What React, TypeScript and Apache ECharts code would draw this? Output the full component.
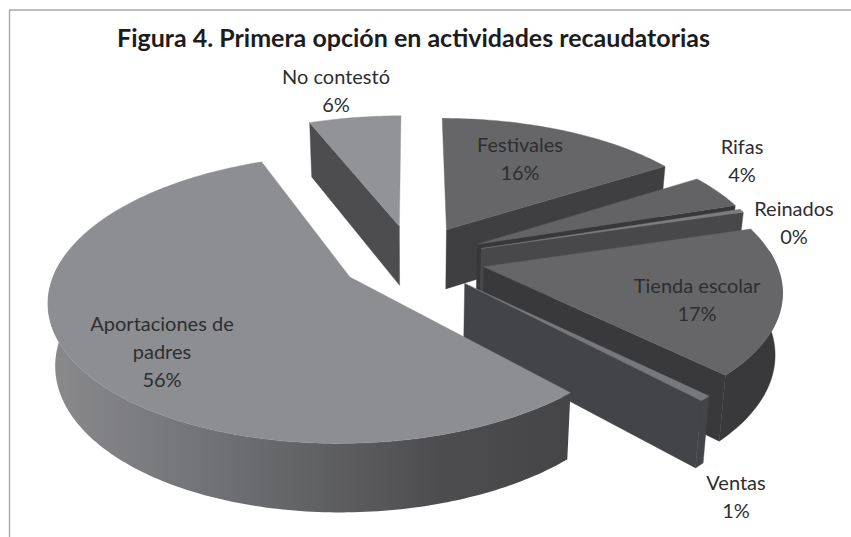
import React, { useEffect, useRef } from "react";
import * as echarts from "echarts";

const TITLE = "Figura 4. Primera opción en actividades recaudatorias";
const categories = ["Festivales", "Rifas", "Reinados", "Tienda escolar", "Ventas", "Aportaciones de\npadres", "No contestó"];
const shares = [16, 4, 0.4, 17, 0.6, 56, 6];

// styling tables (not data)
const DRAW_ORDER = [0, 6, 1, 2, 3, 4, 5];
const TOP_COLORS = ["#666668", "#636365", "#7d7d80", "#666668", "#77787b", "#8d8e91", "#929396"];
const SIDE_COLORS = ["#3f3f41", "#38383a", "#48484a", "#39393b", "#434447", "#48484a", "#4d4d4f"];
const LABEL_POS: [number, number][] = [[520, 158], [742, 160], [794, 222], [697, 299], [736, 496], [162, 351], [336, 90]];

const CX = 412.5, CY = 258.5, R = 291, RT = 135.7, K = 0.148, EXPLODE = 0.25, DEPTH = 60.5, BASE_SHRINK = 0.98;

const total = shares.reduce((a, b) => a + b, 0);
const starts: number[] = [];
shares.reduce((acc, v, i) => { starts[i] = acc; return acc + v; }, 0);

const project = (u: number, v: number, low: boolean): number[] => {
  const s = 1 / (1 - K * v);
  if (!low) return [CX + u * R * s, CY + v * RT * s];
  return [CX + u * R * s * BASE_SHRINK, CY + v * RT * s * BASE_SHRINK + DEPTH * s];
};

const renderSlice = (_p: any, api: any) => {
  const i = api.value(0);
  const a0 = (starts[i] / total) * Math.PI * 2;
  const a1 = ((starts[i] + shares[i]) / total) * Math.PI * 2;
  const mid = (a0 + a1) / 2;
  const ox = Math.sin(mid) * EXPLODE, oy = -Math.cos(mid) * EXPLODE;
  const steps = Math.max(4, Math.ceil(((a1 - a0) * 180) / Math.PI));
  const angles: number[] = [];
  for (let k = 0; k <= steps; k++) angles.push(a0 + ((a1 - a0) * k) / steps);
  const rim = angles.map((a) => [ox + Math.sin(a), oy - Math.cos(a)]);
  const top = rim.map((p) => project(p[0], p[1], false));
  const low = rim.map((p) => project(p[0], p[1], true));
  const apexT = project(ox, oy, false);
  const apexL = project(ox, oy, true);
  const side = SIDE_COLORS[i];
  const wallFill: any = i === 5
    ? {
        type: "linear", x: 0, y: 0, x2: 1, y2: 0,
        colorStops: [
          { offset: 0, color: "#8a8a8d" },
          { offset: 0.3, color: "#727376" },
          { offset: 0.75, color: "#4d4d4f" },
          { offset: 1, color: "#454547" },
        ],
      }
    : side;
  const poly = (points: number[][], fill: any) => ({
    type: "polygon",
    shape: { points },
    style: { fill, stroke: fill.type ? undefined : fill, lineWidth: 0.4 },
  });
  const children: any[] = [];
  // only the parts of the rim and the cut faces that look at the viewer
  const front = angles.map((a, k) => (Math.cos(a) < 0.12 ? k : -1)).filter((k) => k >= 0);
  if (front.length > 1) {
    const t = front.map((k) => top[k]);
    const l = front.map((k) => low[k]).reverse();
    children.push(poly([...t, ...l], wallFill));
  }
  if (-Math.sin(a0) > 1e-6) children.push(poly([apexT, top[0], low[0], apexL], side));
  if (Math.sin(a1) > 1e-6) children.push(poly([apexT, top[steps], low[steps], apexL], side));
  children.push(poly([apexT, ...top], TOP_COLORS[i]));
  return { type: "group", children };
};

const renderLabel = (_p: any, api: any) => {
  const i = api.value(0);
  const [x, y] = LABEL_POS[i];
  return {
    type: "text",
    style: {
      text: `${categories[i]}\n${Math.round(shares[i])}%`,
      x, y,
      align: "center",
      verticalAlign: "middle",
      fill: "#2e2e30",
      font: "20px Lato",
      lineHeight: 27.7,
    },
  };
};

export default function App() {
  const ref = useRef<HTMLDivElement>(null);
  useEffect(() => {
    const chart = echarts.init(ref.current!, undefined, { renderer: "svg" });
    chart.setOption({
      animation: false,
      backgroundColor: "#ffffff",
      title: {
        text: TITLE,
        left: 408.5,
        top: 19,
        textAlign: "center",
        textStyle: { fontFamily: "Lato", fontWeight: "bold", fontSize: 25, color: "#1c1c1e" },
      },
      graphic: [
        { type: "line", shape: { x1: 9.5, y1: 10, x2: 9.5, y2: 537 }, style: { stroke: "#a9a9a9", lineWidth: 1.4 } },
        { type: "line", shape: { x1: 9, y1: 10, x2: 851, y2: 10 }, style: { stroke: "#a9a9a9", lineWidth: 1.4 } },
      ],
      series: [
        { type: "custom", coordinateSystem: "none", renderItem: renderSlice, data: DRAW_ORDER.map((i) => [i, shares[i]]), silent: true, z: 2 },
        { type: "custom", coordinateSystem: "none", renderItem: renderLabel, data: DRAW_ORDER.map((i) => [i, shares[i]]), silent: true, z: 3 },
      ],
    });
    return () => chart.dispose();
  }, []);
  return <div ref={ref} style={{ position: "fixed", left: 0, top: 0, width: 851, height: 537, background: "#fff" }} />;
}
